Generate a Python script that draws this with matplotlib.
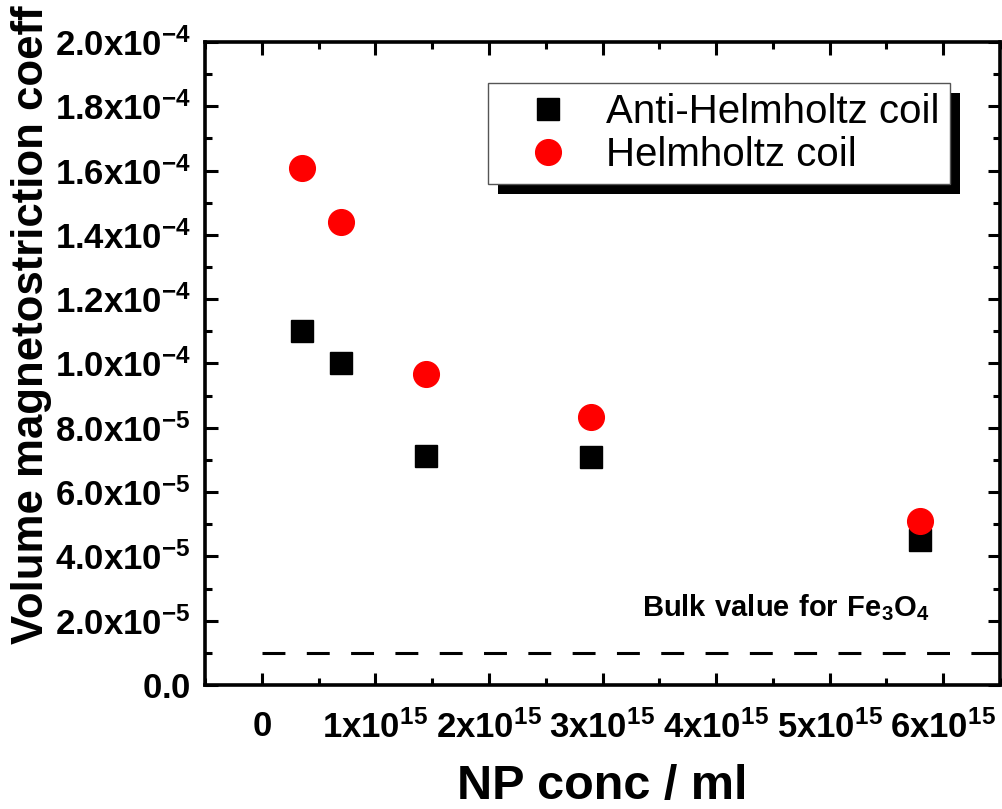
import matplotlib
matplotlib.use("Agg")
import matplotlib.pyplot as plt
import matplotlib.patheffects as pe
from matplotlib.ticker import FixedLocator, MultipleLocator, FuncFormatter

plt.rcParams["font.family"] = ["Liberation Sans", "DejaVu Sans"]
plt.rcParams["mathtext.fontset"] = "custom"
plt.rcParams["mathtext.rm"] = "Liberation Sans"
plt.rcParams["mathtext.bf"] = "Liberation Sans:bold"
plt.rcParams["axes.unicode_minus"] = False

# ── Data ──────────────────────────────────────────────────────────────────────
conc = [0.35e15, 0.70e15, 1.45e15, 2.90e15, 5.80e15]
anti_helmholtz = [1.10e-4, 1.00e-4, 7.12e-5, 7.08e-5, 4.51e-5]
helmholtz = [1.607e-4, 1.439e-4, 9.66e-5, 8.35e-5, 5.10e-5]
bulk_value = 1.0e-5

x_ticks = [0, 1e15, 2e15, 3e15, 4e15, 5e15, 6e15]
y_ticks = [0, 2e-5, 4e-5, 6e-5, 8e-5, 1e-4, 1.2e-4, 1.4e-4, 1.6e-4, 1.8e-4, 2e-4]


def x_fmt(v, pos):
    if abs(v) < 1e10:
        return r"$\mathbf{0}$"
    return r"$\mathbf{%dx10^{15}}$" % round(v / 1e15)


def y_fmt(v, pos):
    if abs(v) < 1e-12:
        return r"$\mathbf{0.0}$"
    exp = -4 if v >= 1e-4 - 1e-12 else -5
    return r"$\mathbf{%.1fx10^{%d}}$" % (v / 10**exp, exp)


fig = plt.figure(figsize=(10.02, 8.09), dpi=100)
ax = fig.add_axes([0.2046, 0.1533, 0.7934, 0.7948])

ax.plot(conc, anti_helmholtz, "s", color="black", ms=16.5, mec="black",
        label="Anti-Helmholtz coil", zorder=3)
ax.plot(conc, helmholtz, "o", color="#ff0000", ms=18.5, mec="#ff0000",
        label="Helmholtz coil", zorder=4)
ax.plot([0, 6.5e15], [bulk_value, bulk_value], color="black", lw=2.2,
        ls=(0, (7.5, 7)), zorder=2)

ax.text(5.88e15, 2.4e-5, r"$\mathbf{Bulk\ value\ for\ Fe_3O_4}$",
        ha="right", va="center", fontsize=21)

ax.set_xlim(-0.5e15, 6.5e15)
ax.set_ylim(0, 2e-4)
ax.xaxis.set_major_locator(FixedLocator(x_ticks))
ax.xaxis.set_minor_locator(MultipleLocator(0.5e15))
ax.yaxis.set_major_locator(FixedLocator(y_ticks))
ax.yaxis.set_minor_locator(MultipleLocator(1e-5))
ax.xaxis.set_major_formatter(FuncFormatter(x_fmt))
ax.yaxis.set_major_formatter(FuncFormatter(y_fmt))

for s in ax.spines.values():
    s.set_linewidth(2.6)
ax.tick_params(which="both", direction="in", top=True, right=True, width=2.2)
ax.tick_params(which="major", length=9)
ax.tick_params(which="minor", length=5)
ax.tick_params(axis="y", which="major", labelsize=25, pad=10)
ax.tick_params(axis="x", which="major", labelsize=25, pad=18)

ax.set_xlabel("NP conc / ml", fontsize=35, fontweight="bold", labelpad=14)
ax.set_ylabel("Volume magnetostriction coeff", fontsize=31.5, fontweight="bold")
ax.yaxis.set_label_coords(-0.192, 0.56)

leg = ax.legend(loc="upper right", bbox_to_anchor=(0.937, 0.936),
                borderaxespad=0, fontsize=29, fancybox=False, frameon=True,
                framealpha=1, edgecolor="#555555", handlelength=2.5,
                handletextpad=0.2, labelspacing=0.12, borderpad=0.25,
                markerscale=1.0)
frame = leg.get_frame()
frame.set_linewidth(1.0)
frame.set_path_effects([
    pe.SimplePatchShadow(offset=(7.2, -7.2), shadow_rgbFace="black", alpha=1),
    pe.Normal(),
])

fig.savefig("out.png", dpi=100)
